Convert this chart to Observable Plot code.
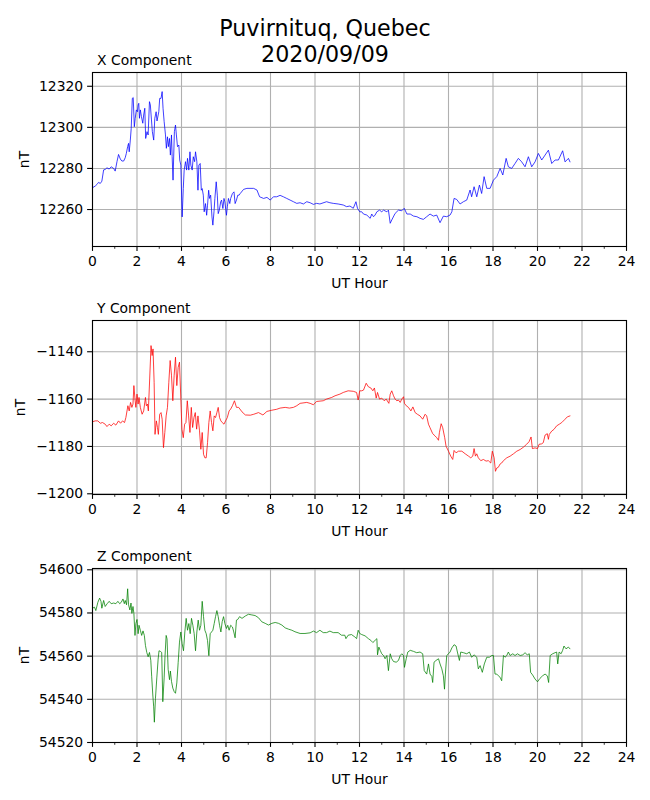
<!DOCTYPE html>
<html>
<head>
<meta charset="utf-8">
<script src="https://cdn.jsdelivr.net/npm/d3@7"></script>
<script src="https://cdn.jsdelivr.net/npm/@observablehq/plot@0.6"></script>
<style>
  html, body { margin: 0; padding: 0; background: white; }
  #page { position: relative; width: 650px; height: 800px; background: white; font-family: "DejaVu Sans", sans-serif; color: black; }
  .t { position: absolute; white-space: nowrap; line-height: 1; }
  .sup { font-size: 22.2px; width: 650px; text-align: center; left: 0; }
  .ptitle { font-size: 13.9px; left: 97px; }
  .panel { position: absolute; left: 0; }
</style>
</head>
<body>
<div id="page"></div>
<script>
// ---------- data ----------
const stationTitle = "Puvirnituq, Quebec";
const dateTitle = "2020/09/09";
const panelTitles = ["X Component", "Y Component", "Z Component"];
const xAxisLabel = "UT Hour";
const yAxisLabel = "nT";
const hourTicks = [0, 2, 4, 6, 8, 10, 12, 14, 16, 18, 20, 22, 24];
const hourMinorTicks = [1, 3, 5, 7, 9, 11, 13, 15, 17, 19, 21, 23];

const xTicks = [12260, 12280, 12300, 12320];
const yTicks = [-1200, -1180, -1160, -1140];
const zTicks = [54520, 54540, 54560, 54580, 54600];

// [UT hour, nT]
const xSeries = [
[0,12270.6],[0.12,12271.4],[0.2,12272.2],[0.27,12273.2],[0.35,12272.7],[0.42,12273.8],[0.5,12279.3],[0.57,12279.5],
[0.65,12280.3],[0.75,12279.7],[0.84,12280.8],[0.95,12280.0],[1.02,12278.7],[1.1,12283.3],[1.17,12286.8],[1.25,12284.6],
[1.32,12283.6],[1.4,12283.6],[1.47,12285.2],[1.52,12287.3],[1.58,12290.6],[1.62,12292.2],[1.65,12288.1],[1.7,12293.8],
[1.74,12299.5],[1.79,12314.1],[1.83,12314.5],[1.88,12300.3],[1.92,12304.4],[1.97,12308.5],[2.02,12307.6],[2.05,12310.9],
[2.08,12311.7],[2.11,12304.4],[2.15,12308.5],[2.2,12305.2],[2.26,12302.0],[2.3,12306.0],[2.35,12309.3],[2.39,12294.6],
[2.45,12297.9],[2.5,12296.3],[2.56,12312.5],[2.6,12310.9],[2.65,12303.6],[2.69,12297.9],[2.75,12293.8],[2.8,12304.4],
[2.86,12307.6],[2.9,12303.1],[2.98,12307.6],[3.02,12314.1],[3.08,12314.1],[3.13,12317.4],[3.17,12309.3],[3.22,12302.8],
[3.28,12296.3],[3.32,12289.8],[3.37,12295.4],[3.41,12290.6],[3.46,12294.6],[3.5,12286.5],[3.55,12296.3],[3.58,12285.7],
[3.62,12274.3],[3.68,12297.9],[3.73,12301.1],[3.77,12296.3],[3.82,12290.6],[3.88,12291.4],[3.92,12284.1],[3.97,12281.6],
[4.03,12256.4],[4.08,12270.2],[4.12,12279.2],[4.18,12283.3],[4.23,12279.2],[4.27,12284.9],[4.33,12279.2],[4.38,12288.1],
[4.42,12281.6],[4.48,12279.2],[4.53,12285.7],[4.59,12283.3],[4.63,12288.1],[4.69,12283.3],[4.74,12269.4],[4.78,12281.6],
[4.84,12282.4],[4.89,12269.4],[4.93,12270.2],[4.98,12267.0],[5.02,12258.9],[5.08,12262.9],[5.13,12257.2],[5.17,12262.1],
[5.22,12269.4],[5.26,12265.4],[5.31,12267.0],[5.37,12256.4],[5.41,12252.4],[5.46,12258.9],[5.5,12265.4],[5.56,12273.5],
[5.61,12267.0],[5.65,12258.0],[5.7,12259.7],[5.76,12263.7],[5.8,12264.6],[5.86,12260.5],[5.91,12265.4],[5.95,12263.7],
[6.02,12257.2],[6.06,12261.3],[6.11,12265.4],[6.17,12262.9],[6.21,12265.4],[6.29,12267.8],[6.36,12268.6],[6.41,12262.9],
[6.47,12264.6],[6.53,12267.0],[6.59,12267.0],[6.64,12267.8],[6.79,12269.8],[6.94,12270.3],[7.24,12270.3],[7.39,12269.5],
[7.51,12266.2],[7.69,12265.4],[7.84,12265.9],[7.99,12264.6],[8.13,12266.2],[8.28,12266.2],[8.43,12266.9],[8.58,12266.2],
[8.73,12265.4],[8.88,12264.6],[9.03,12263.8],[9.18,12263.0],[9.33,12263.3],[9.48,12262.7],[9.63,12263.8],[9.78,12263.3],
[9.93,12262.5],[10.07,12263.0],[10.22,12262.7],[10.52,12263.8],[10.67,12263.3],[10.82,12263.0],[11.04,12262.7],[11.27,12262.2],
[11.42,12261.4],[11.57,12261.7],[11.72,12260.6],[11.84,12263.8],[11.91,12260.6],[12.01,12258.9],[12.1,12258.9],[12.18,12257.8],
[12.33,12257.3],[12.48,12255.7],[12.55,12257.8],[12.63,12256.5],[12.7,12257.3],[12.78,12258.9],[12.9,12259.7],[13.0,12258.9],
[13.08,12259.7],[13.23,12258.9],[13.3,12259.7],[13.38,12253.3],[13.45,12254.9],[13.6,12258.1],[13.75,12259.7],[13.9,12259.4],
[14.01,12260.6],[14.13,12257.8],[14.28,12257.8],[14.43,12256.8],[14.58,12256.5],[14.72,12255.7],[14.87,12255.2],[15.02,12256.5],
[15.17,12257.8],[15.32,12256.8],[15.47,12257.3],[15.62,12253.6],[15.77,12256.8],[15.92,12256.5],[16.07,12257.3],[16.15,12258.9],
[16.25,12265.4],[16.37,12264.9],[16.52,12262.7],[16.67,12263.8],[16.82,12264.6],[16.97,12269.5],[17.04,12266.2],[17.15,12271.1],
[17.27,12266.2],[17.39,12271.9],[17.49,12267.8],[17.6,12276.0],[17.72,12270.3],[17.87,12270.3],[18.02,12274.3],[18.17,12276.0],
[18.32,12280.0],[18.44,12276.8],[18.59,12284.9],[18.69,12280.8],[18.84,12280.0],[18.99,12282.4],[19.14,12284.9],[19.29,12283.2],
[19.44,12280.8],[19.59,12285.7],[19.74,12280.8],[19.89,12283.2],[20.04,12287.3],[20.19,12284.1],[20.34,12286.5],[20.49,12288.9],
[20.64,12282.4],[20.79,12284.1],[20.94,12284.1],[21.13,12288.6],[21.24,12283.2],[21.39,12284.9],[21.46,12283.2]
];

const ySeries = [
[0,-1169.6],[0.12,-1169.2],[0.24,-1169.2],[0.35,-1170.2],[0.45,-1169.9],[0.57,-1170.6],[0.65,-1171.6],[0.75,-1170.6],
[0.84,-1171.3],[0.95,-1170.2],[1.05,-1171.0],[1.17,-1169.2],[1.26,-1170.2],[1.35,-1169.2],[1.44,-1169.9],[1.5,-1167.8],
[1.59,-1162.8],[1.65,-1165.0],[1.71,-1161.4],[1.77,-1163.5],[1.82,-1162.1],[1.86,-1154.3],[1.91,-1160.0],[1.95,-1163.5],
[2.0,-1157.9],[2.05,-1162.1],[2.09,-1159.3],[2.15,-1163.5],[2.23,-1166.4],[2.3,-1165.0],[2.38,-1159.3],[2.42,-1162.8],
[2.47,-1162.1],[2.51,-1165.0],[2.57,-1151.5],[2.63,-1137.4],[2.68,-1141.6],[2.72,-1138.8],[2.77,-1152.9],[2.81,-1174.9],
[2.87,-1169.2],[2.92,-1172.0],[2.96,-1174.9],[3.02,-1166.4],[3.08,-1165.7],[3.13,-1168.5],[3.19,-1180.5],[3.25,-1174.1],
[3.31,-1167.1],[3.37,-1163.5],[3.43,-1152.9],[3.49,-1143.7],[3.55,-1149.9],[3.61,-1160.7],[3.67,-1149.9],[3.73,-1142.3],
[3.79,-1154.3],[3.85,-1146.6],[3.91,-1144.4],[3.97,-1160.0],[4.02,-1172.7],[4.08,-1176.3],[4.14,-1170.6],[4.2,-1169.9],
[4.26,-1160.7],[4.32,-1167.1],[4.38,-1174.1],[4.44,-1163.5],[4.5,-1172.0],[4.56,-1167.8],[4.62,-1165.7],[4.68,-1172.7],
[4.74,-1167.1],[4.81,-1173.4],[4.87,-1181.2],[4.93,-1174.1],[4.99,-1183.3],[5.05,-1184.8],[5.11,-1184.8],[5.17,-1178.4],
[5.23,-1169.9],[5.29,-1165.0],[5.35,-1169.9],[5.41,-1173.4],[5.47,-1167.1],[5.53,-1167.8],[5.59,-1165.7],[5.65,-1163.5],
[5.71,-1167.8],[5.77,-1169.2],[5.83,-1169.9],[5.91,-1170.6],[5.98,-1169.2],[6.06,-1167.8],[6.14,-1165.0],[6.21,-1164.2],
[6.29,-1162.8],[6.38,-1160.7],[6.47,-1163.5],[6.57,-1163.5],[6.72,-1165.4],[6.87,-1166.7],[7.09,-1166.8],[7.25,-1166.4],
[7.46,-1165.7],[7.66,-1166.7],[7.84,-1165.2],[8.06,-1164.7],[8.28,-1164.3],[8.43,-1163.8],[8.66,-1163.5],[8.85,-1163.8],
[9.03,-1163.5],[9.18,-1162.8],[9.33,-1161.8],[9.63,-1161.4],[9.78,-1161.8],[9.93,-1162.4],[10.07,-1161.0],[10.37,-1160.7],
[10.52,-1160.0],[10.75,-1159.3],[10.9,-1158.6],[11.12,-1157.9],[11.27,-1157.2],[11.49,-1156.5],[11.72,-1156.7],[11.87,-1157.2],
[11.94,-1160.4],[12.01,-1156.5],[12.1,-1156.5],[12.18,-1156.2],[12.3,-1153.3],[12.4,-1154.8],[12.51,-1155.3],[12.6,-1156.5],
[12.67,-1155.3],[12.75,-1159.6],[12.81,-1157.2],[12.9,-1160.0],[13.0,-1159.6],[13.11,-1160.7],[13.2,-1160.0],[13.32,-1161.8],
[13.38,-1157.9],[13.45,-1156.5],[13.53,-1158.6],[13.6,-1160.0],[13.68,-1160.7],[13.75,-1160.4],[13.83,-1161.4],[13.9,-1160.0],
[13.98,-1159.0],[14.02,-1161.8],[14.1,-1162.8],[14.2,-1163.5],[14.31,-1165.0],[14.4,-1163.3],[14.5,-1165.7],[14.6,-1166.4],
[14.72,-1167.1],[14.84,-1168.5],[14.95,-1166.4],[15.02,-1167.1],[15.1,-1170.6],[15.17,-1172.1],[15.29,-1174.6],[15.4,-1175.6],
[15.47,-1176.3],[15.55,-1177.4],[15.59,-1174.2],[15.67,-1170.4],[15.74,-1172.1],[15.83,-1176.3],[15.89,-1179.9],[16.0,-1182.0],
[16.1,-1184.1],[16.19,-1185.5],[16.25,-1181.7],[16.34,-1182.7],[16.45,-1182.0],[16.6,-1182.0],[16.75,-1183.1],[16.9,-1184.1],
[17.0,-1184.8],[17.09,-1184.1],[17.15,-1180.9],[17.21,-1184.1],[17.27,-1183.1],[17.34,-1184.8],[17.45,-1186.0],[17.57,-1185.5],
[17.69,-1186.2],[17.79,-1186.0],[17.9,-1187.0],[17.97,-1182.0],[18.05,-1184.8],[18.11,-1190.5],[18.17,-1189.1],[18.24,-1188.8],
[18.32,-1187.4],[18.39,-1187.0],[18.47,-1186.0],[18.62,-1184.8],[18.77,-1184.1],[18.92,-1183.1],[19.07,-1182.0],[19.22,-1181.3],
[19.37,-1180.3],[19.51,-1179.1],[19.62,-1178.0],[19.71,-1176.0],[19.77,-1180.9],[19.89,-1180.6],[20.0,-1180.9],[20.07,-1179.1],
[20.19,-1178.9],[20.26,-1178.4],[20.34,-1175.2],[20.44,-1174.6],[20.49,-1177.0],[20.53,-1174.9],[20.64,-1173.5],[20.74,-1172.8],
[20.86,-1171.3],[20.98,-1170.6],[21.09,-1169.9],[21.24,-1168.5],[21.34,-1167.5],[21.46,-1167.1]
];

const zSeries = [
[0,54582.2],[0.09,54582.7],[0.15,54581.1],[0.24,54584.9],[0.32,54586.9],[0.38,54585.4],[0.42,54582.2],[0.5,54585.8],
[0.57,54583.0],[0.66,54584.3],[0.75,54585.4],[0.84,54584.3],[0.95,54584.6],[1.05,54584.3],[1.14,54585.4],[1.22,54584.3],
[1.29,54584.9],[1.37,54586.5],[1.43,54584.3],[1.47,54585.8],[1.53,54583.8],[1.58,54591.2],[1.62,54583.8],[1.68,54581.4],
[1.73,54584.6],[1.77,54579.8],[1.82,54583.0],[1.86,54579.8],[1.91,54569.6],[1.95,54575.1],[2.0,54577.0],[2.05,54570.4],
[2.09,54574.3],[2.15,54572.0],[2.21,54569.6],[2.27,54571.7],[2.33,54569.6],[2.38,54564.9],[2.44,54561.7],[2.5,54559.7],
[2.56,54561.7],[2.62,54558.1],[2.66,54550.7],[2.71,54542.0],[2.75,54536.5],[2.78,54529.4],[2.83,54540.5],[2.89,54549.9],
[2.95,54558.6],[2.99,54562.5],[3.05,54562.2],[3.11,54561.7],[3.16,54538.9],[3.22,54549.9],[3.26,54560.2],[3.31,54569.6],
[3.35,54568.0],[3.4,54553.9],[3.46,54549.1],[3.5,54553.1],[3.55,54548.3],[3.61,54545.2],[3.67,54543.6],[3.73,54542.8],
[3.79,54547.6],[3.85,54557.0],[3.91,54566.5],[3.97,54571.2],[4.03,54565.7],[4.09,54562.5],[4.15,54571.2],[4.21,54577.5],
[4.27,54572.0],[4.33,54575.1],[4.39,54570.4],[4.45,54577.5],[4.51,54574.3],[4.57,54570.4],[4.63,54562.5],[4.69,54571.2],
[4.75,54576.7],[4.81,54572.0],[4.87,54574.3],[4.93,54585.4],[4.99,54578.3],[5.05,54572.0],[5.11,54570.4],[5.17,54567.2],
[5.23,54560.2],[5.29,54570.4],[5.35,54571.2],[5.41,54572.0],[5.47,54575.1],[5.53,54578.3],[5.59,54581.1],[5.65,54578.3],
[5.71,54574.3],[5.77,54571.2],[5.83,54576.0],[5.89,54578.3],[5.95,54575.1],[6.02,54572.8],[6.08,54574.3],[6.14,54572.0],
[6.21,54574.3],[6.29,54573.5],[6.35,54571.2],[6.41,54568.5],[6.47,54576.7],[6.53,54577.0],[6.61,54578.3],[6.72,54577.5],
[6.87,54578.6],[7.01,54579.4],[7.16,54579.1],[7.31,54578.8],[7.46,54577.8],[7.61,54575.9],[7.76,54575.2],[7.91,54574.4],
[8.06,54575.2],[8.21,54575.6],[8.36,54575.2],[8.51,54574.4],[8.66,54573.1],[8.81,54572.5],[8.96,54572.0],[9.1,54571.3],
[9.33,54570.5],[9.55,54570.5],[9.78,54570.8],[9.93,54571.6],[10.07,54570.9],[10.22,54572.0],[10.37,54570.9],[10.52,54570.9],
[10.67,54571.6],[10.82,54570.9],[11.04,54570.9],[11.19,54569.7],[11.34,54569.7],[11.39,54568.1],[11.49,54569.7],[11.64,54570.0],
[11.79,54568.9],[11.87,54568.1],[11.94,54572.0],[12.01,54570.5],[12.1,54570.0],[12.25,54569.4],[12.4,54568.1],[12.51,54567.3],
[12.6,54566.3],[12.7,54567.3],[12.78,54568.1],[12.81,54560.6],[12.87,54564.2],[12.93,54562.7],[13.0,54561.1],[13.08,54560.3],
[13.15,54558.8],[13.23,54560.3],[13.3,54553.3],[13.38,54561.1],[13.45,54558.8],[13.53,54557.5],[13.65,54557.2],[13.75,54558.0],
[13.83,54560.3],[13.9,54561.1],[13.98,54560.3],[14.02,54554.8],[14.1,54558.8],[14.17,54561.9],[14.28,54562.7],[14.43,54562.2],
[14.57,54561.6],[14.72,54561.9],[14.84,54561.1],[14.91,54553.3],[15.02,54551.7],[15.1,54556.4],[15.17,54551.7],[15.25,54550.6],
[15.29,54547.8],[15.35,54557.2],[15.44,54558.0],[15.55,54558.8],[15.62,54556.4],[15.7,54554.1],[15.77,54550.9],[15.82,54544.7],
[15.86,54551.7],[15.92,54560.3],[16.0,54561.1],[16.07,54561.9],[16.15,54563.8],[16.25,54565.3],[16.34,54564.7],[16.4,54561.9],
[16.49,54558.0],[16.55,54561.9],[16.67,54561.6],[16.82,54561.1],[16.94,54561.9],[17.04,54559.5],[17.15,54560.6],[17.27,54559.5],
[17.34,54554.1],[17.42,54555.6],[17.52,54552.5],[17.61,54556.4],[17.72,54559.5],[17.84,54559.5],[17.94,54560.3],[18.02,54560.3],
[18.09,54551.7],[18.17,54551.7],[18.24,54550.9],[18.32,54550.2],[18.39,54548.6],[18.47,54560.3],[18.54,54559.5],[18.62,54560.3],
[18.69,54561.9],[18.77,54560.3],[18.89,54561.1],[18.99,54560.3],[19.1,54561.1],[19.22,54560.3],[19.34,54560.6],[19.44,54561.6],
[19.54,54560.6],[19.63,54561.1],[19.69,54552.5],[19.78,54551.3],[19.89,54549.4],[20.0,54548.1],[20.11,54549.7],[20.23,54550.9],
[20.34,54551.7],[20.44,54550.9],[20.5,54547.8],[20.57,54560.3],[20.68,54561.1],[20.79,54561.6],[20.86,54561.9],[20.91,54556.4],
[20.97,54561.9],[21.06,54561.1],[21.13,54562.7],[21.19,54564.7],[21.28,54563.4],[21.39,54564.2],[21.46,54563.4]
];

const xDomain = [12242, 12326.7];
const yDomain = [-1200.3, -1126.8];
const zDomain = [54520, 54600.6];

// ---------- drawing ----------
const page = document.getElementById("page");

function addText(cls, text, top) {
  const d = document.createElement("div");
  d.className = "t " + cls;
  d.style.top = top + "px";
  d.textContent = text;
  page.appendChild(d);
}

addText("sup", stationTitle, 17);
addText("sup", dateTitle, 43.2);

const fmtNum = d => (d < 0 ? "\u2212" + Math.abs(d) : String(d));

function panel(series, color, domain, ticks, title, plotTop, yLabelOffset) {
  const data = series.map(([h, v]) => ({h, v}));
  const chart = Plot.plot({
    width: 650,
    height: 8 + 174 + 50,
    marginLeft: 92,
    marginRight: 24,
    marginTop: 8,
    marginBottom: 50,
    style: {fontFamily: "DejaVu Sans", fontSize: "13.9px", color: "black", background: "white", overflow: "visible"},
    x: {domain: [0, 24]},
    y: {domain},
    marks: [
      Plot.gridX(hourTicks, {stroke: "#b0b0b0", strokeOpacity: 1, strokeWidth: 1.1}),
      Plot.gridY(ticks, {stroke: "#b0b0b0", strokeOpacity: 1, strokeWidth: 1.1}),
      Plot.line(data, {x: "h", y: "v", stroke: color, strokeWidth: 0.75}),
      Plot.frame({stroke: "black", strokeWidth: 1.1}),
      Plot.axisX(hourMinorTicks, {anchor: "bottom", tickSize: 2.8, tickFormat: () => "", label: null, strokeWidth: 0.8}),
      Plot.axisX(hourTicks, {anchor: "bottom", tickSize: 4.9, tickPadding: 4.4, tickFormat: fmtNum, strokeWidth: 1.1,
        label: xAxisLabel, labelAnchor: "center", labelOffset: 41, labelArrow: "none"}),
      Plot.axisY(ticks, {anchor: "left", tickSize: 4.9, tickPadding: 4.4, tickFormat: fmtNum, strokeWidth: 1.1,
        label: yAxisLabel, labelAnchor: "center", labelOffset: yLabelOffset, labelArrow: "none"})
    ]
  });
  const wrap = document.createElement("div");
  wrap.className = "panel";
  wrap.style.top = (plotTop - 8) + "px";
  wrap.appendChild(chart);
  page.appendChild(wrap);
  addText("ptitle", title, plotTop - 18);
}

panel(xSeries, "blue", xDomain, xTicks, panelTitles[0], 72, 73);
panel(ySeries, "red", yDomain, yTicks, panelTitles[1], 320, 77);
panel(zSeries, "green", zDomain, zTicks, panelTitles[2], 568, 73);
</script>
</body>
</html>
